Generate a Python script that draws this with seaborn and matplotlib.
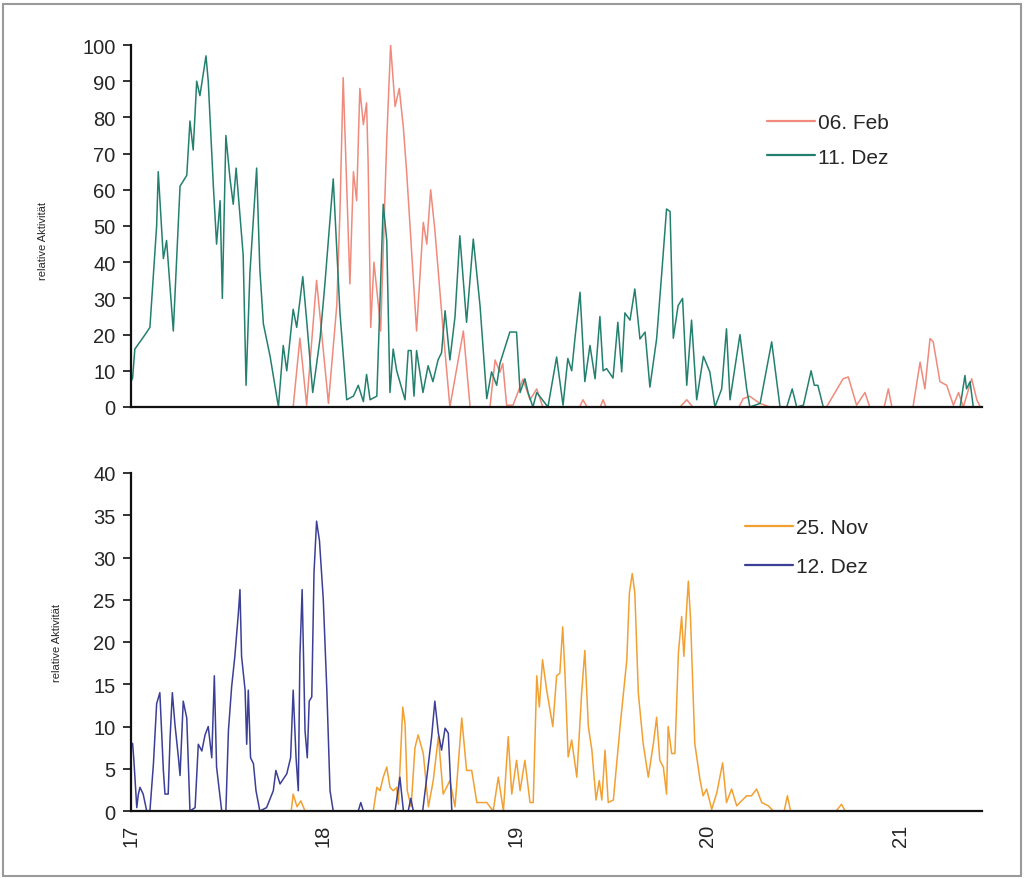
import pandas as pd
import numpy as np
import matplotlib
matplotlib.use("Agg")
import matplotlib.pyplot as plt
import seaborn as sns
from matplotlib.patches import Rectangle

# minutes after 17:00 and relative activity
feb06_min = [0, 50.6, 52.7, 54.8, 57.9, 61.6, 64.2, 65.2, 66.2, 68.3, 69.4, 70.4, 71.4, 72.5, 73.5, 74.0,
             74.8, 75.8, 77.2, 77.9, 79.8, 81.0, 82.4, 83.7, 85.0, 86.0, 89.1, 91.2, 92.3, 93.5, 94.8, 97.4,
             99.5, 100.5, 103.7, 105.8, 112.0, 113.6, 115.1, 116.0, 117.2, 119.2, 122.3, 124.5, 126.6, 128.5,
             140.0, 141.0, 142.3, 146.4, 147.3, 148.2, 171.3, 173.4, 175.3, 189.7, 191.0, 193.0, 196.2, 199.4,
             217.0, 222.2, 223.8, 226.4, 229.0, 230.5, 235.0, 236.3, 237.4, 244.0, 246.2, 247.7, 249.3, 250.3,
             252.4, 254.5, 256.6, 258.2, 259.7, 262.3, 263.9, 265.0]
feb06_val = [0, 0, 19, 0.5, 35, 1, 28, 54, 91, 34, 65, 57, 88, 78, 84, 67,
             22, 40, 28, 21, 74, 100, 83, 88, 77, 65, 21, 51, 45, 60, 49, 21,
             0, 5, 21, 0, 0, 13, 9.6, 12, 0.5, 0.5, 7.7, 2, 5, 0,
             0, 2, 0, 0, 2, 0, 0, 2, 0, 0, 2.3, 3, 1, 0,
             0, 7.8, 8.3, 0.5, 4, 0, 0, 5, 0, 0, 12.4, 5, 18.9, 18,
             7, 6, 0.5, 4, 0, 7.8, 2, 0]

dez11_min = [0, 0.5, 1.2, 4.4, 5.9, 8.0, 8.5, 10.1, 11.1, 13.2, 15.3, 17.4, 18.4, 19.4, 20.5, 21.5,
             23.4, 24.1, 25.7, 26.7, 27.8, 28.5, 29.6, 30.9, 31.9, 32.8, 34.0, 35.0, 35.9, 37.1, 39.2, 40.2,
             41.3, 43.4, 46.0, 47.5, 48.6, 50.6, 51.7, 53.6, 54.8, 56.7, 59.0, 60.5, 63.1, 65.2, 67.3, 69.4,
             70.9, 72.5, 73.5, 74.6, 76.7, 78.7, 79.8, 80.8, 81.8, 82.9, 85.5, 86.5, 87.4, 88.3, 89.1, 91.1,
             92.7, 94.2, 95.8, 96.9, 98.0, 99.5, 101.1, 102.6, 104.7, 106.8, 108.9, 111.0, 112.5, 114.1, 115.1,
             118.2, 120.3, 121.4, 122.9, 123.9, 125.4, 126.6, 130.1, 132.8, 134.8, 136.3, 137.5, 138.5, 140.1,
             141.6, 143.2, 144.8, 146.3, 147.3, 148.4, 150.4, 151.9, 153.1, 154.1, 155.7, 157.2, 158.8, 160.4,
             161.9, 164.0, 165.6, 167.1, 168.2, 169.2, 170.7, 172.1, 173.4, 174.9, 176.5, 178.6, 180.6, 182.2,
             184.3, 185.8, 186.9, 190.0, 192.1, 193.1, 196.3, 199.9, 202.5, 204.6, 206.3, 207.7, 209.8, 212.2,
             213.2, 214.3, 216.0, 258.7, 260.2, 260.7, 261.8, 262.8, 265.0]
dez11_val = [7, 8, 16, 20, 22, 50, 65, 41, 46, 21, 61, 64, 79, 71, 90, 86,
             97, 90, 61, 45, 57, 30, 75, 63, 56, 66, 53, 42, 6, 37, 66, 38,
             23, 14, 0, 17, 10, 27, 22, 36, 24, 4, 19, 34, 63, 26, 2, 3,
             6, 1.5, 9, 2, 3, 56, 46, 4, 16, 10, 2, 15.6, 15.6, 3, 15.6, 4,
             11.4, 7, 13, 15, 26.6, 13, 25, 47.3, 23.4, 46.4, 28, 2.3, 9.7, 6, 12,
             20.7, 20.7, 4, 7.8, 4, 0, 4, 0, 13.8, 0.5, 13.4, 10, 18.8, 31.7,
             7, 17, 7.8, 25, 10, 10.6, 8, 23.4, 9.7, 26, 24, 32.6, 18.8, 20.7,
             5.5, 18.8, 37, 54.7, 54, 19, 28, 30, 6, 24, 2, 14, 9.7, 0,
             5, 21.6, 2, 20, 5, 0, 1, 18, 0, 0, 5, 0, 0.5, 10,
             6, 6, 0, 0, 8.7, 5, 7, 0, 0]

nov25_min = [50.0, 50.6, 51.8, 53.0, 54.3, 75.6, 76.7, 77.7, 78.7, 79.8,
             80.8, 81.8, 82.9, 83.4, 84.8, 85.5, 86.2, 87.4, 88.6, 89.6,
             91.2, 92.8, 94.3, 95.9, 97.4, 99.5, 101.1, 103.2, 104.7, 106.3,
             107.9, 111.0, 113.0, 114.6, 116.2, 117.7, 118.8, 120.3, 121.4, 122.9,
             124.5, 125.5, 126.6, 127.4, 128.4, 129.7, 131.6, 132.8, 133.8, 134.7,
             135.4, 136.4, 137.5, 139.1, 140.6, 141.6, 142.7, 143.8, 145.1, 146.1,
             146.9, 147.9, 148.9, 150.5, 152.6, 154.7, 155.5, 156.4, 157.2, 158.3,
             159.8, 161.4, 163.0, 164.0, 165.0, 166.1, 167.1, 167.6, 168.7, 169.7,
             170.8, 171.8, 172.5, 173.4, 173.9, 174.6, 175.9, 177.5, 178.5, 179.6,
             181.2, 182.8, 184.6, 185.8, 187.4, 189.0, 190.5, 192.1, 193.6, 195.2,
             196.8, 198.9, 200.4, 203.8, 204.8, 205.8, 220.0, 221.7, 222.8]
nov25_val = [0, 2, 0.5, 1.2, 0, 0, 2.8, 2.4, 4, 5.2,
             2.8, 2.4, 2.8, 0.8, 12.3, 10.3, 2.4, 0.5, 7.5, 9,
             6.8, 0.5, 3.6, 8.8, 2, 3.6, 0.5, 11, 4.8, 4.8,
             1, 1, 0, 4, 0, 8.8, 2, 6, 2.4, 6,
             1, 1, 16, 12.3, 17.9, 14.3, 10, 16, 16.3, 21.8,
             16.3, 6.4, 8.4, 4, 13.9, 19, 10, 7.2, 1.3, 3.6,
             1.3, 7.2, 1, 1.3, 10, 17.9, 25.8, 28.1, 25.8, 13.9,
             8, 4, 8, 11.1, 6, 5.2, 2, 10, 6.8, 6.8,
             18.7, 23, 18.3, 24.2, 27.2, 22.6, 8, 3.8, 1.8, 2.6,
             0.2, 2.2, 5.7, 1, 2.6, 0.6, 1.2, 1.8, 1.8, 2.6,
             1, 0.6, 0, 0, 1.8, 0, 0, 0.8, 0]

dez12_min = [0, 0.5, 0.9, 1.8, 2.3, 2.8, 3.8, 4.9, 5.9, 7.0, 8.0, 9.0, 10.1, 10.6, 11.6, 12.2,
             12.9, 13.7, 14.8, 15.3, 16.3, 17.4, 18.4, 20.0, 21.0, 22.1, 23.1, 24.1, 25.2, 26.0, 26.7, 28.3,
             29.6, 30.4, 31.4, 32.4, 33.5, 34.0, 34.5, 35.6, 36.1, 36.6, 37.3, 38.2, 39.0, 40.2, 42.3, 44.4,
             45.2, 46.5, 48.6, 49.8, 50.6, 51.5, 52.2, 52.7, 53.4, 54.3, 55.0, 55.6, 56.4, 57.1, 57.9, 58.8,
             60.0, 61.1, 62.1, 63.1, 70.9, 71.7, 72.5, 82.4, 83.9, 85.0, 86.5, 87.3, 88.1, 91.0, 92.3, 93.8,
             94.8, 95.9, 96.9, 98.0, 99.0, 100.1]
dez12_val = [8, 8, 6, 0.4, 2, 2.8, 2, 0, 0, 5.6, 12.7, 14, 4.8, 2, 2, 8.7,
             14, 10.3, 6.3, 4.2, 13, 11, 0, 0.4, 7.9, 7.1, 9, 10, 6.3, 16, 5.2, 0,
             0, 9.5, 14.7, 18.3, 23.4, 26.2, 18.3, 14.3, 7.9, 14.3, 6.3, 5.6, 2.4, 0, 0.4, 2.4,
             4.8, 3.2, 4.4, 6.3, 14.3, 6.3, 2.4, 18.3, 26.2, 9.5, 6.3, 13, 13.5, 28.2, 34.3, 32,
             25, 14.3, 2.4, 0, 0, 1, 0, 0, 4, 0, 0, 1.5, 0, 0, 4, 8.8,
             13, 9.2, 7.2, 9.8, 9.2, 0]

top_labels = ["06. Feb", "11. Dez"]
bottom_labels = ["25. Nov", "12. Dez"]
top_colors = ["#f08a7c", "#24806e"]
bottom_colors = ["#f3a032", "#3c3f96"]
hour_ticks = [17, 18, 19, 20, 21]


def long_frame(parts):
    frames = []
    for label, mins, vals in parts:
        d = pd.DataFrame({"min": mins, "val": vals})
        d["hour"] = 17 + d["min"] / 60.0
        d["series"] = label
        frames.append(d)
    return pd.concat(frames, ignore_index=True)


top_df = long_frame([(top_labels[0], feb06_min, feb06_val),
                     (top_labels[1], dez11_min, dez11_val)])
bottom_df = long_frame([(bottom_labels[0], nov25_min, nov25_val),
                        (bottom_labels[1], dez12_min, dez12_val)])

sns.set_style("white")
plt.rcParams["font.family"] = ["Liberation Sans", "DejaVu Sans"]

fig = plt.figure(figsize=(10.24, 8.79), dpi=100)
W, H = 1024.0, 879.0
x_left, x_right = 131, 982
ax1 = fig.add_axes([x_left / W, 1 - 408 / H, (x_right - x_left) / W, (408 - 46) / H])
ax2 = fig.add_axes([x_left / W, 1 - 812 / H, (x_right - x_left) / W, (812 - 474) / H])

sns.lineplot(data=top_df, x="hour", y="val", hue="series", hue_order=top_labels,
             palette=top_colors, estimator=None, sort=False, linewidth=1.1, ax=ax1)
sns.lineplot(data=bottom_df, x="hour", y="val", hue="series", hue_order=bottom_labels,
             palette=bottom_colors, estimator=None, sort=False, linewidth=1.1, ax=ax2)

xmax = 17 + (x_right - x_left) / 192.3
for ax, ymax, step in [(ax1, 100, 10), (ax2, 40, 5)]:
    ax.set_xlim(17, xmax)
    ax.set_ylim(0, ymax)
    ax.set_yticks(np.arange(0, ymax + 1, step))
    ax.set_xticks(hour_ticks)
    sns.despine(ax=ax)
    for s in ["left", "bottom"]:
        ax.spines[s].set_color("#111111")
        ax.spines[s].set_linewidth(1.6)
    ax.tick_params(axis="y", direction="out", length=6, width=1.2, color="#111111",
                   labelsize=14.5, pad=5, left=True)
    ax.tick_params(axis="x", length=0, labelsize=14.5, pad=9)
    ax.set_xlabel("")
    ax.set_ylabel("relative Aktivität", fontsize=8)
    ax.grid(False)

ax1.set_xticklabels([])
ax2.set_xticklabels([str(h) for h in hour_ticks], rotation=90, va="top")
ax1.yaxis.set_label_coords(-0.098, 0.46)
ax2.yaxis.set_label_coords(-0.081, 0.5)

leg1 = ax1.legend(loc="upper left", bbox_to_anchor=(0.725, 0.864), frameon=False,
                  fontsize=15, handlelength=2.3, handletextpad=0.15, labelspacing=0.75)
leg2 = ax2.legend(loc="upper left", bbox_to_anchor=(0.699, 0.922), frameon=False,
                  fontsize=15, handlelength=2.3, handletextpad=0.15, labelspacing=0.95)
for leg in (leg1, leg2):
    for line in leg.get_lines():
        line.set_linewidth(1.6)

# outer frame of the scanned figure
fig.patches.append(Rectangle((3 / W, 1 - 877 / H), (1021 - 3) / W, (877 - 5) / H,
                             transform=fig.transFigure, fill=False,
                             edgecolor="#9a9a9a", linewidth=1.5))

fig.savefig("out.png", dpi=100)
plt.close(fig)
